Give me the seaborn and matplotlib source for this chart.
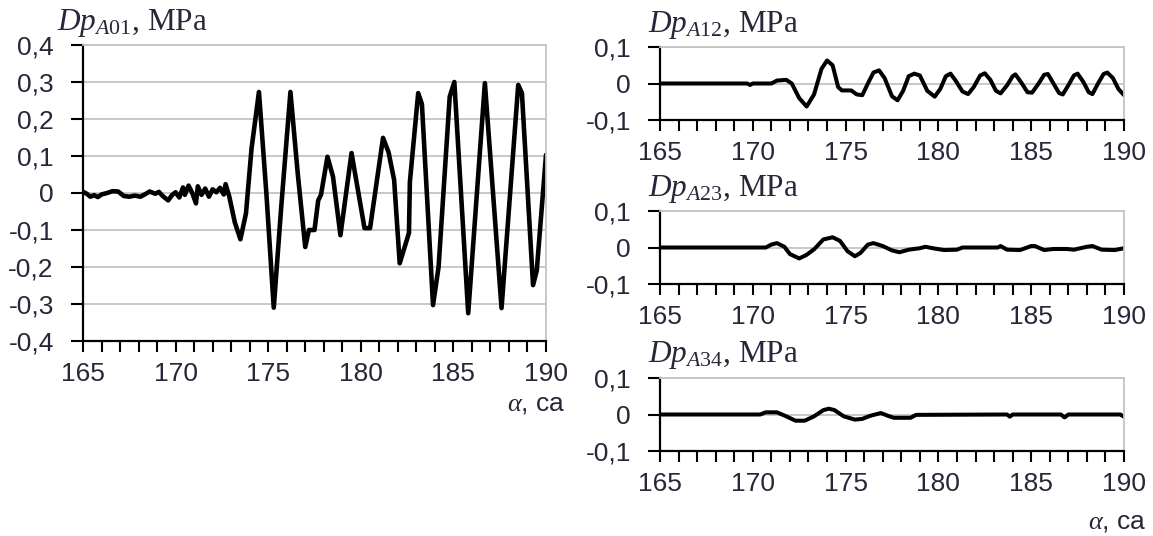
import numpy as np
import pandas as pd
import matplotlib
matplotlib.use("Agg")
import matplotlib.pyplot as plt
from matplotlib.ticker import MultipleLocator, FixedLocator, FuncFormatter
import seaborn as sns

# Pressure pulsation traces vs crank angle
angle_a01 = [165.0, 165.2, 165.4, 165.6, 165.8, 166.0, 166.3, 166.6, 166.9, 167.2,
             167.5, 167.8, 168.1, 168.4, 168.6, 168.9, 169.1, 169.3, 169.6, 169.8,
             170.0, 170.2, 170.4, 170.5, 170.7, 170.9, 171.1, 171.2, 171.4, 171.6,
             171.8, 172.0, 172.2, 172.4, 172.6, 172.7, 172.9, 173.2, 173.5, 173.8,
             174.1, 174.5, 174.9, 175.3, 175.7, 176.2, 176.6, 177.0, 177.2, 177.5,
             177.7, 177.85, 178.2, 178.5, 178.9, 179.5, 180.2, 180.5, 181.2, 181.5,
             181.8, 182.1, 182.6, 182.65, 183.1, 183.3, 183.9, 184.2, 184.8, 185.05,
             185.8, 186.7, 187.6, 188.5, 188.7, 189.3, 189.5, 190.0]
dp_a01 = [0.003, -0.002, -0.010, -0.006, -0.011, -0.004, 0.000, 0.005, 0.004, -0.008,
          -0.010, -0.007, -0.010, -0.002, 0.004, -0.002, 0.003, -0.008, -0.020, -0.006,
          0.002, -0.012, 0.015, -0.005, 0.020, 0.000, -0.028, 0.018, -0.005, 0.012,
          -0.010, 0.010, 0.002, 0.014, -0.004, 0.024, -0.010, -0.080, -0.125, -0.055,
          0.120, 0.273, 0.000, -0.310, -0.040, 0.273, 0.050, -0.146, -0.100, -0.100,
          -0.020, -0.005, 0.098, 0.044, -0.114, 0.108, -0.095, -0.095, 0.149, 0.110,
          0.035, -0.190, -0.108, 0.030, 0.270, 0.240, -0.303, -0.200, 0.260, 0.300,
          -0.325, 0.297, -0.311, 0.292, 0.270, -0.249, -0.210, 0.103]

angle_a12 = [165.0, 169.7, 169.85, 170.0, 171.0, 171.3, 171.8, 172.1, 172.5, 172.9,
             173.3, 173.7, 174.0, 174.3, 174.6, 174.8, 175.3, 175.6, 175.9, 176.2,
             176.5, 176.8, 177.1, 177.5, 177.8, 178.1, 178.4, 178.7, 179.0, 179.4,
             179.8, 180.1, 180.4, 180.65, 180.9, 181.3, 181.6, 181.9, 182.25, 182.5,
             182.8, 183.1, 183.35, 183.7, 184.0, 184.15, 184.5, 184.8, 185.05, 185.4,
             185.7, 185.9, 186.2, 186.5, 186.7, 187.0, 187.3, 187.5, 187.8, 188.1,
             188.3, 188.6, 188.9, 189.1, 189.4, 189.7, 190.0]
dp_a12 = [0.0, 0.0, -0.004, 0.0, 0.0, 0.008, 0.010, 0.0, -0.040, -0.063,
          -0.030, 0.040, 0.063, 0.050, -0.010, -0.019, -0.019, -0.030, -0.032, 0.000,
          0.030, 0.036, 0.015, -0.035, -0.046, -0.020, 0.020, 0.027, 0.022, -0.020,
          -0.036, -0.015, 0.020, 0.027, 0.010, -0.022, -0.029, -0.010, 0.022, 0.028,
          0.010, -0.020, -0.027, -0.005, 0.020, 0.025, 0.000, -0.024, -0.025, 0.000,
          0.024, 0.026, 0.000, -0.026, -0.030, -0.005, 0.022, 0.027, 0.005, -0.024,
          -0.029, 0.000, 0.026, 0.030, 0.015, -0.015, -0.032]

angle_a23 = [165.0, 170.7, 171.0, 171.3, 171.7, 172.0, 172.5, 172.9, 173.3, 173.8,
             174.3, 174.7, 175.1, 175.5, 175.8, 176.2, 176.5, 177.0, 177.5, 177.9,
             178.4, 179.0, 179.3, 179.7, 180.3, 181.0, 181.3, 183.2, 183.35, 183.7,
             184.4, 185.0, 185.2, 185.7, 186.2, 186.9, 187.3, 188.0, 188.3, 188.8,
             189.5, 190.0]
dp_a23 = [0.0, 0.0, 0.008, 0.012, 0.002, -0.018, -0.030, -0.020, -0.005, 0.022,
          0.028, 0.018, -0.010, -0.024, -0.015, 0.008, 0.012, 0.004, -0.008, -0.013,
          -0.006, -0.002, 0.002, -0.002, -0.007, -0.006, 0.000, 0.000, 0.004, -0.006,
          -0.007, 0.004, 0.004, -0.007, -0.004, -0.004, -0.006, 0.002, 0.004, -0.006,
          -0.007, -0.002]

angle_a34 = [165.0, 170.4, 170.7, 171.3, 171.8, 172.3, 172.8, 173.3, 173.8, 174.1,
             174.4, 174.9, 175.5, 175.9, 176.3, 176.9, 177.3, 177.6, 178.5, 178.8,
             183.7, 183.85, 184.0, 186.6, 186.8, 187.0, 189.8, 190.0]
dp_a34 = [0.0, 0.0, 0.006, 0.006, -0.005, -0.017, -0.017, -0.005, 0.012, 0.016,
          0.012, -0.005, -0.014, -0.012, -0.004, 0.004, -0.004, -0.009, -0.009, -0.001,
          0.000, -0.006, 0.000, 0.000, -0.008, 0.000, 0.000, -0.006]

left_yticks = [-0.4, -0.3, -0.2, -0.1, 0.0, 0.1, 0.2, 0.3, 0.4]
right_yticks = [-0.1, 0.0, 0.1]
x_major = [165, 170, 175, 180, 185, 190]

sns.set_style("white")
plt.rcParams["font.family"] = ["Liberation Sans", "DejaVu Sans"]
plt.rcParams["mathtext.fontset"] = "custom"
plt.rcParams["mathtext.it"] = "Liberation Serif:italic"
plt.rcParams["mathtext.rm"] = "Liberation Serif"

W, H = 1153, 536
fig = plt.figure(figsize=(W / 100, H / 100), dpi=100)

TXT = "#2c2438"
GRID = "#c4c4c4"
FS = 19


def px_axes(l, t, r, b):
    return fig.add_axes([l / W, 1 - b / H, (r - l) / W, (b - t) / H])


def comma(v, _):
    if abs(v) < 1e-9:
        return "0"
    return f"{v:.1f}".replace(".", ",")


def style(ax, yticks, lim):
    ax.set_xlim(165, 190)
    ax.set_ylim(-lim, lim)
    ax.xaxis.set_major_locator(FixedLocator(x_major))
    ax.xaxis.set_minor_locator(MultipleLocator(1))
    ax.yaxis.set_major_locator(FixedLocator(yticks))
    ax.yaxis.set_major_formatter(FuncFormatter(comma))
    ax.grid(axis="y", color=GRID, lw=1.3)
    ax.grid(axis="x", visible=False)
    ax.set_axisbelow(True)
    for s in ("left", "bottom"):
        ax.spines[s].set_color("black")
        ax.spines[s].set_linewidth(1.6)
    for s in ("right", "top"):
        ax.spines[s].set_color(GRID)
        ax.spines[s].set_linewidth(1.3)
    ax.tick_params(axis="x", which="both", direction="out", length=8, width=1.5,
                   color="black", bottom=True, labelsize=FS, labelcolor=TXT, pad=7)
    ax.tick_params(axis="y", which="major", direction="out", length=9, width=1.5,
                   color="black", left=True, labelsize=FS, labelcolor=TXT, pad=12)
    ax.set_xlabel("")
    ax.set_ylabel("")


def trace(ax, x, y, lw):
    df = pd.DataFrame({"angle": x, "dp": y})
    sns.lineplot(data=df, x="angle", y="dp", ax=ax, color="black", lw=lw,
                 estimator=None, sort=False, solid_joinstyle="round")


ax0 = px_axes(83, 45, 546, 341)
trace(ax0, angle_a01, dp_a01, 3.3)
style(ax0, left_yticks, 0.4)

ax1 = px_axes(660, 47, 1124, 120)
trace(ax1, angle_a12, dp_a12, 2.9)
style(ax1, right_yticks, 0.1)

ax2 = px_axes(660, 211, 1124, 284)
trace(ax2, angle_a23, dp_a23, 2.9)
style(ax2, right_yticks, 0.1)

ax3 = px_axes(660, 378, 1124, 451)
trace(ax3, angle_a34, dp_a34, 2.9)
style(ax3, right_yticks, 0.1)


def ftext(x, y, s, **kw):
    fig.text(x / W, 1 - y / H, s, **kw)


for (x, y, sub) in [(57, 30, "A01"), (648, 32, "A12"), (648, 196, "A23"), (648, 362, "A34")]:
    ftext(x, y, rf"$Dp_{{{sub}}}$, MPa", family="Liberation Serif", fontsize=22.5,
          color=TXT, va="baseline", ha="left")

ftext(565, 410, r"$\alpha$, ca", fontsize=FS, color=TXT, va="baseline", ha="right")
ftext(1146, 529, r"$\alpha$, ca", fontsize=FS, color=TXT, va="baseline", ha="right")

fig.savefig("out.png", dpi=100)
